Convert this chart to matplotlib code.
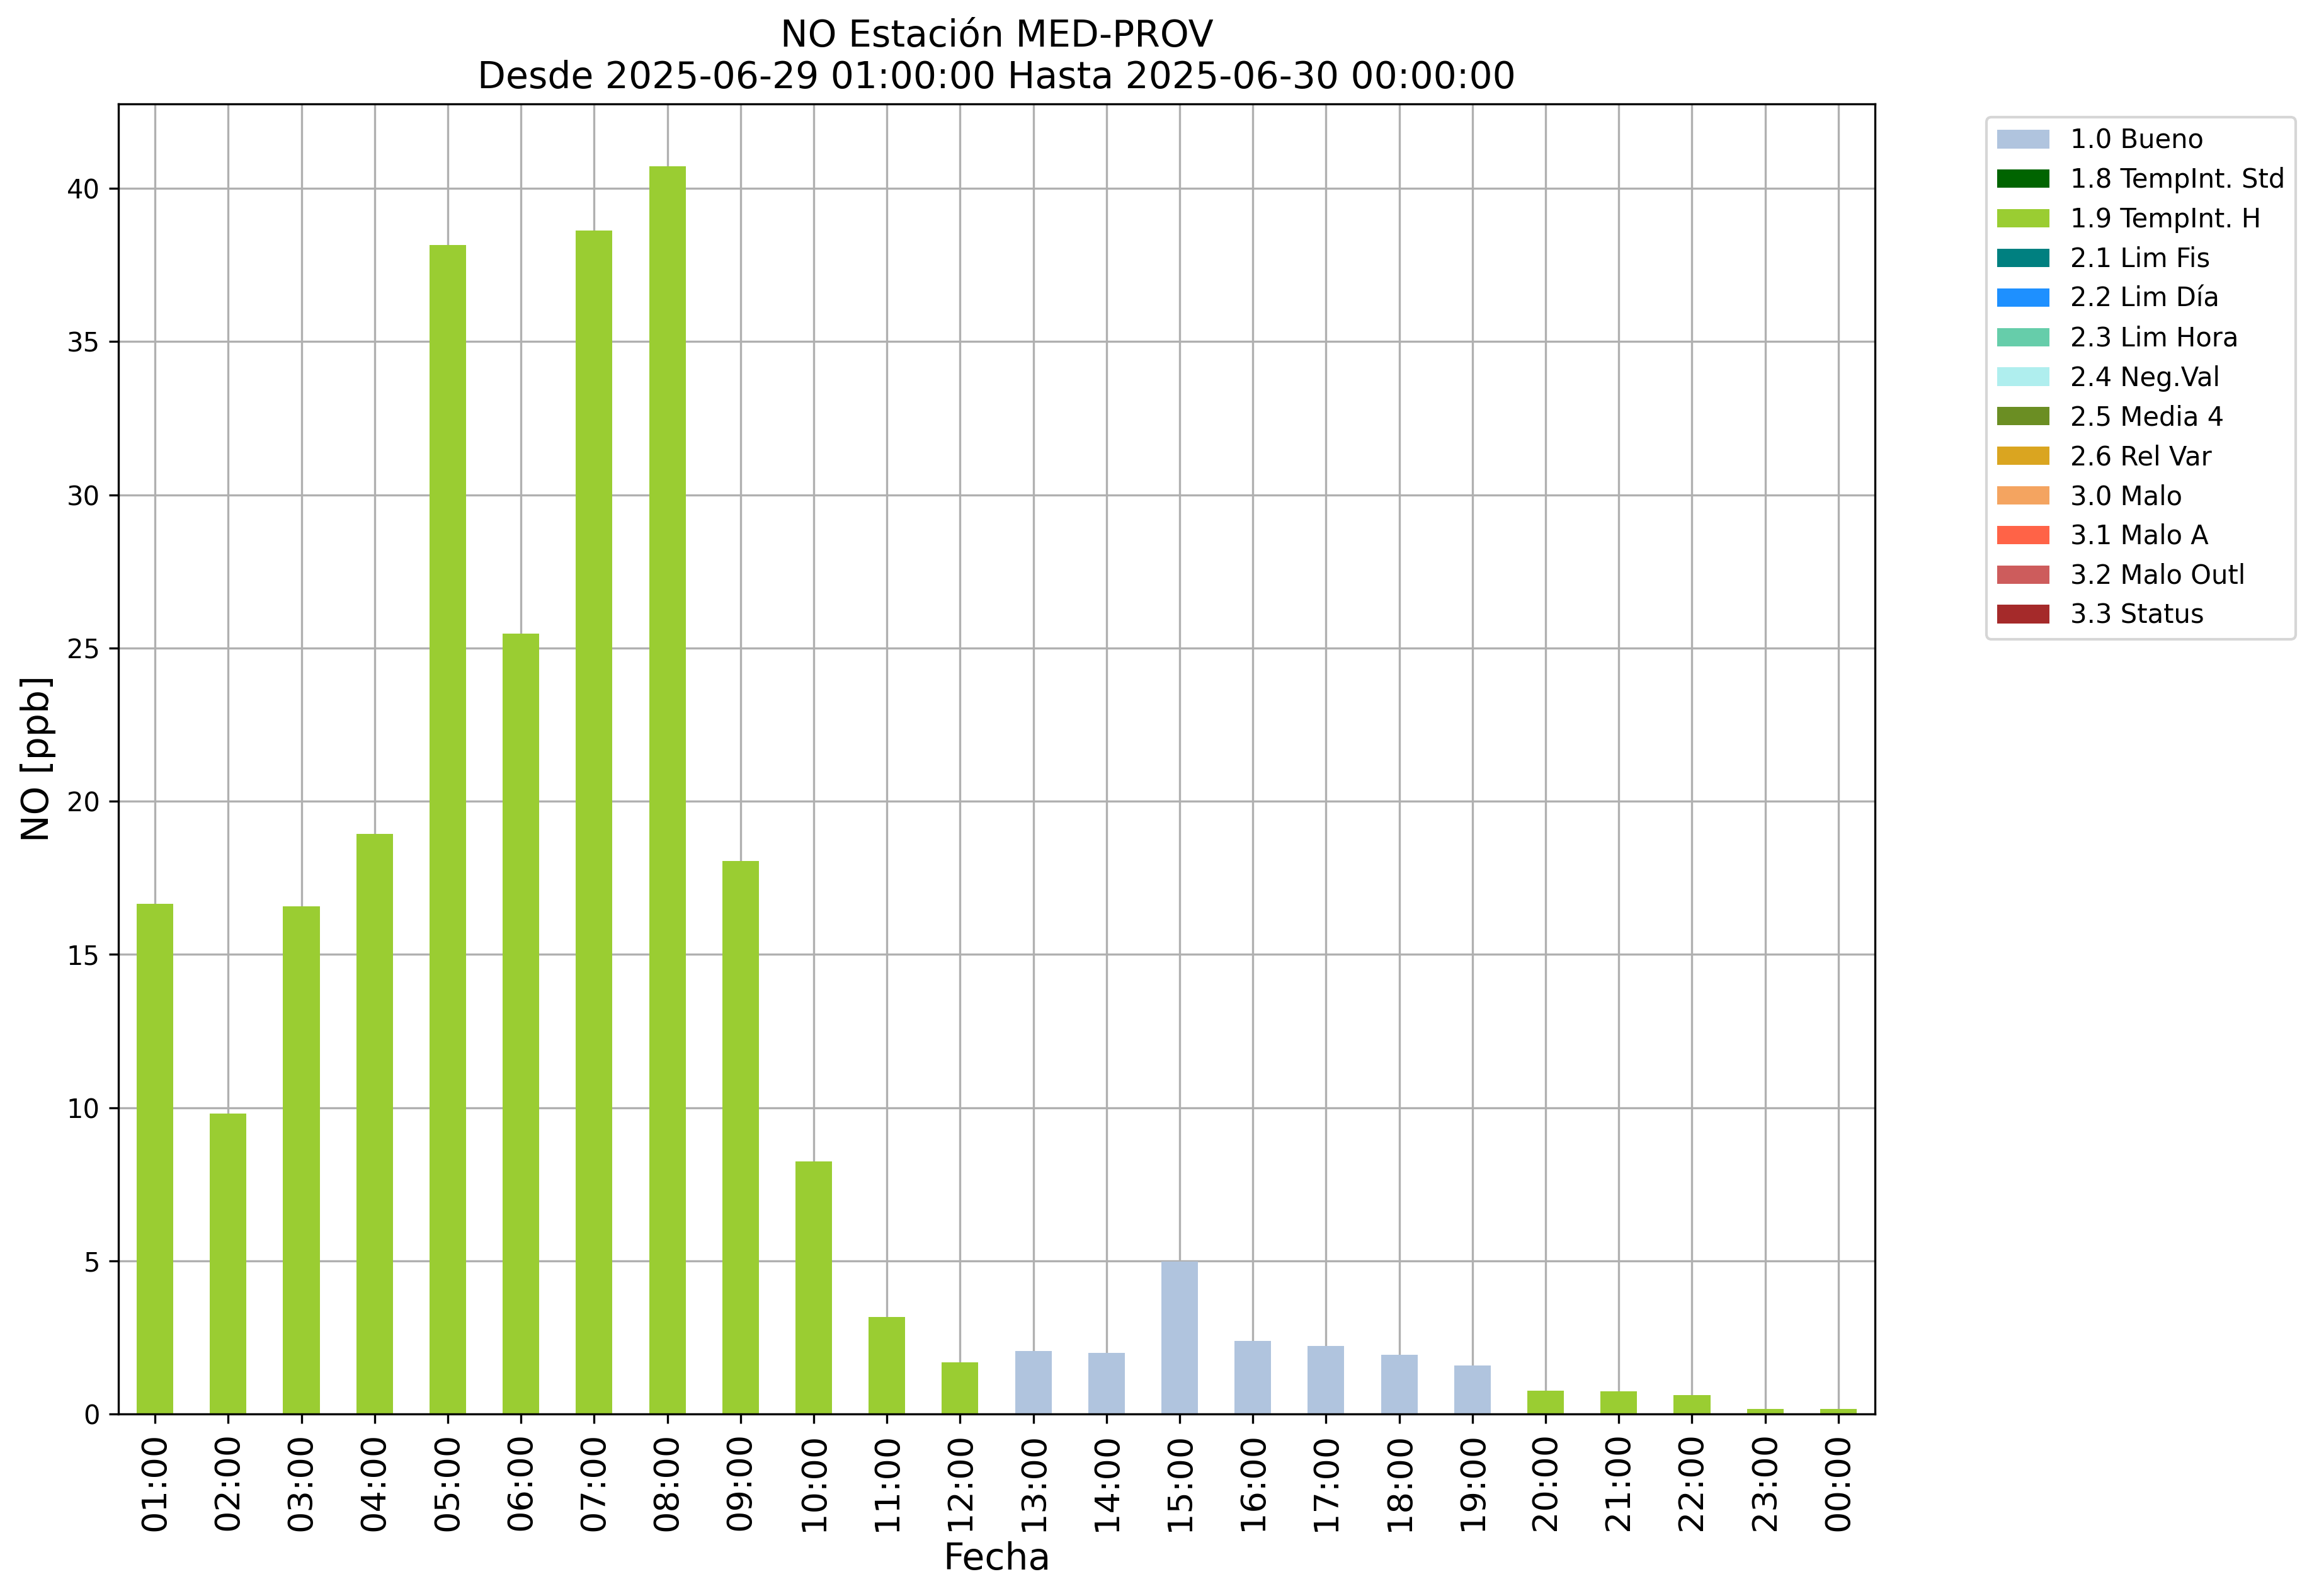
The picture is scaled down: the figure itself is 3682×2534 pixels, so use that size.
import numpy as np
import matplotlib
matplotlib.use('Agg')
import matplotlib.pyplot as plt

# horas del día y valores de NO (ppb)
horas = ['01:00', '02:00', '03:00', '04:00', '05:00', '06:00', '07:00', '08:00',
         '09:00', '10:00', '11:00', '12:00', '13:00', '14:00', '15:00', '16:00',
         '17:00', '18:00', '19:00', '20:00', '21:00', '22:00', '23:00', '00:00']
no_ppb = [16.65, 9.8, 16.56, 18.93, 38.15, 25.47, 38.63, 40.72,
          18.05, 8.25, 3.17, 1.69, 2.06, 2.0, 4.98, 2.39,
          2.22, 1.93, 1.58, 0.76, 0.74, 0.62, 0.16, 0.16]
# bandera de calidad de cada hora
banderas = ['1.9', '1.9', '1.9', '1.9', '1.9', '1.9', '1.9', '1.9',
            '1.9', '1.9', '1.9', '1.9', '1.0', '1.0', '1.0', '1.0',
            '1.0', '1.0', '1.0', '1.9', '1.9', '1.9', '1.9', '1.9']

# categorías de la leyenda
codigos = ['1.0', '1.8', '1.9', '2.1', '2.2', '2.3', '2.4', '2.5', '2.6',
           '3.0', '3.1', '3.2', '3.3']
nombres = ['1.0 Bueno', '1.8 TempInt. Std', '1.9 TempInt. H', '2.1 Lim Fis',
           '2.2 Lim Día', '2.3 Lim Hora', '2.4 Neg.Val', '2.5 Media 4',
           '2.6 Rel Var', '3.0 Malo', '3.1 Malo A', '3.2 Malo Outl', '3.3 Status']
colores = ['lightsteelblue', 'darkgreen', 'yellowgreen', 'teal', 'dodgerblue',
           'mediumaquamarine', 'paleturquoise', 'olivedrab', 'goldenrod',
           'sandybrown', 'tomato', 'indianred', 'brown']

fig = plt.figure(figsize=(3682 / 300, 2534 / 300), dpi=300)
ax = fig.add_axes([188 / 3682, 1 - 2245 / 2534, (2977 - 188) / 3682, (2245 - 165) / 2534])

x = np.arange(len(horas))
valores = np.array(no_ppb)
flags = np.array(banderas)
for cod, nom, col in zip(codigos, nombres, colores):
    v = np.where(flags == cod, valores, 0.0)
    ax.bar(x, v, width=0.5, color=col, label=nom, zorder=2)

ax.set_xlim(-0.5, len(horas) - 0.5)
ax.set_ylim(0, valores.max() * 1.05)
ax.set_xticks(x)
ax.set_xticklabels(horas, rotation=90, fontsize=13)
ax.grid(True, color='#b0b0b0', linewidth=0.8)
for linea in ax.get_xgridlines() + ax.get_ygridlines():
    linea.set_zorder(3)

ax.set_xlabel('Fecha', fontsize=14)
ax.set_ylabel('NO [ppb]', fontsize=14)
ax.set_title('NO Estación MED-PROV\nDesde 2025-06-29 01:00:00 Hasta 2025-06-30 00:00:00',
             fontsize=14)
ax.legend(bbox_to_anchor=(1.056, 1), loc='upper left', fontsize=10)

fig.savefig('out.png', dpi=300)
